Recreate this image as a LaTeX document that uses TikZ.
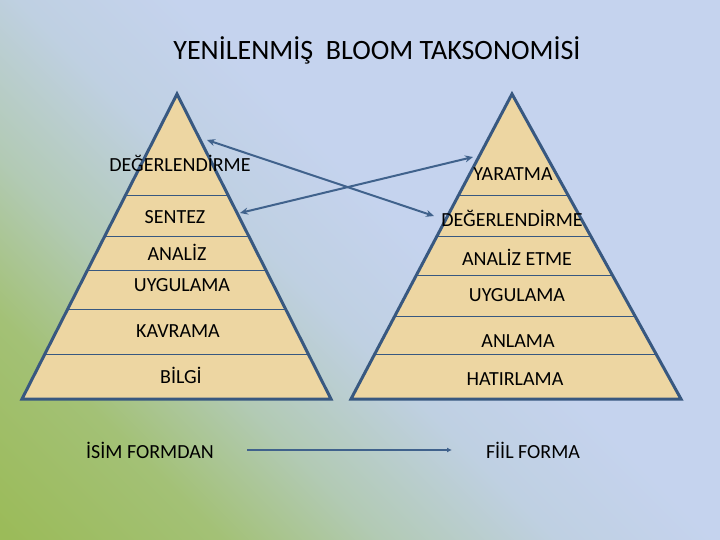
\documentclass[tikz,border=0pt]{standalone}
\usepackage{fontspec}
\setmainfont{Carlito}
\usetikzlibrary{arrows.meta}
\usetikzlibrary{positioning}
\definecolor{bgGreen}{RGB}{155,187,89}
\definecolor{bgLeaf}{RGB}{163,193,118}
\definecolor{bgSea}{RGB}{178,202,180}
\definecolor{bgSky}{RGB}{191,208,226}
\definecolor{bgBlue}{RGB}{197,211,238}
\definecolor{papyrusTan}{RGB}{237,214,162}
\definecolor{edgeBlue}{RGB}{56,88,128}
\definecolor{arrowBlue}{RGB}{64,98,140}
\pgfdeclareverticalshading{slideShade}{100bp}{color(0bp)=(bgGreen); color(15bp)=(bgGreen); color(27bp)=(bgLeaf); color(36bp)=(bgSea); color(46bp)=(bgSky); color(55bp)=(bgBlue); color(100bp)=(bgBlue)}

\begin{document}
\begin{tikzpicture}[x=1pt,y=-1pt,
  tier/.style={font=\fontsize{20}{24}\selectfont, inner sep=0pt},
  rung/.style={line width=1pt, edgeBlue},
  pyramid/.style={line width=3pt, edgeBlue, line join=miter},
  link/.style={line width=2pt, arrowBlue, {Stealth[length=8pt,width=7pt]}-{Stealth[length=8pt,width=7pt]}}]
\shade [shading=slideShade, shading angle=-45] (0,0) rectangle (720,540);
\useasboundingbox (0,0) rectangle (720,540);

\node [font=\fontsize{28}{32}\selectfont, inner sep=0pt] (title) at (377,50) {YENİLENMİŞ\ \ BLOOM TAKSONOMİSİ};

% old taxonomy
\coordinate (lTop) at (177,94);
\coordinate (lLeft) at (22,399);
\coordinate (lRight) at (331,399);
\fill [papyrusTan] (lTop) -- (lLeft) -- (lRight) -- cycle;
\begin{scope}
\clip (lTop) -- (lLeft) -- (lRight) -- cycle;
\foreach \y in {196,236,270,309,354}
  \draw [rung] (0,\y) -- (360,\y);
\end{scope}
\draw [pyramid] (lTop) -- (lLeft) -- (lRight) -- cycle;

% revised taxonomy
\coordinate (rTop) at (512,94);
\coordinate (rLeft) at (351,399);
\coordinate (rRight) at (681,399);
\fill [papyrusTan] (rTop) -- (rLeft) -- (rRight) -- cycle;
\begin{scope}
\clip (rTop) -- (rLeft) -- (rRight) -- cycle;
\foreach \y in {196,236,275,316,354}
  \draw [rung] (340,\y) -- (700,\y);
\end{scope}
\draw [pyramid] (rTop) -- (rLeft) -- (rRight) -- cycle;

\node [tier] (lDeg) at (180,163) {DEĞERLENDİRME};
\node [tier] (lSen) at (175,217) {SENTEZ};
\node [tier] (lAna) at (177,252) {ANALİZ};
\node [tier] (lUyg) at (182,285) {UYGULAMA};
\node [tier] (lKav) at (178,331) {KAVRAMA};
\node [tier] (lBil) at (181,375) {BİLGİ};

\node [tier] (rYar) at (513,174) {YARATMA};
\node [tier] (rDeg) at (512,218) {DEĞERLENDİRME};
\node [tier] (rAna) at (517,257) {ANALİZ ETME};
\node [tier] (rUyg) at (517,295) {UYGULAMA};
\node [tier] (rAnl) at (518,341) {ANLAMA};
\node [tier] (rHat) at (515,379) {HATIRLAMA};

\node [tier] (noun) at (150,450) {İSİM FORMDAN};
\node [tier] (verb) at (533,450) {FİİL FORMA};

\coordinate (lEval) at (207,140);
\coordinate (lSynth) at (240,213);
\coordinate (rEval) at (434,216);
\coordinate (rCreate) at (473,157);
\draw [link] (lEval) -- (rEval);
\draw [link] (lSynth) -- (rCreate);

\coordinate (nounEnd) at (247,450);
\coordinate (verbEnd) at (452,450);
\draw [line width=2.5pt, arrowBlue, -{Latex[length=5pt,width=5pt]}] (nounEnd) -- (verbEnd);
\end{tikzpicture}
\end{document}
